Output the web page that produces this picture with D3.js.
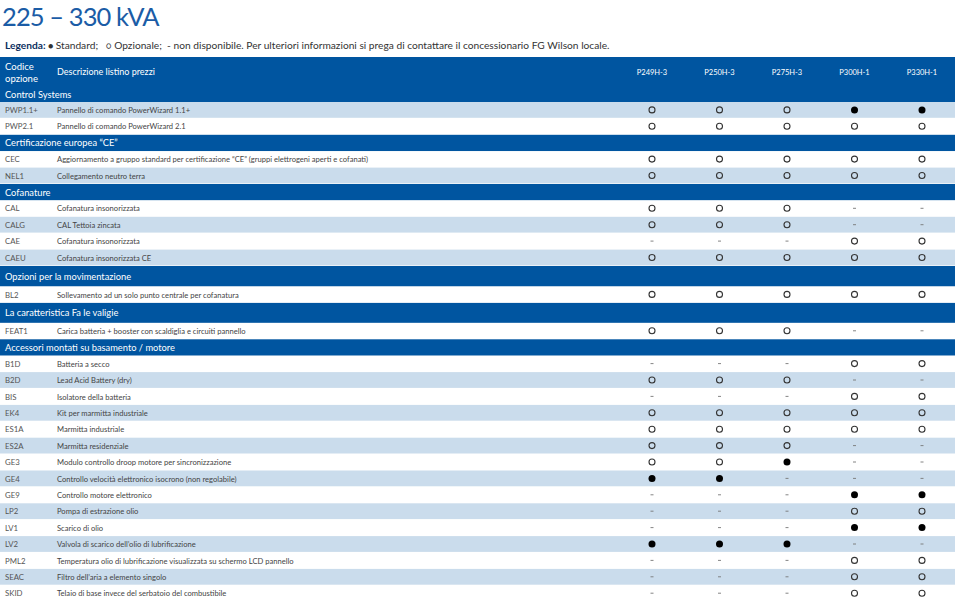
<!DOCTYPE html>
<html>
<head>
<meta charset="utf-8">
<script src="https://cdn.jsdelivr.net/npm/d3@7"></script>
<style>
  body { margin: 0; background: #fff; }
  text { font-family: Lato, "Open Sans", sans-serif; }
</style>
</head>
<body>
<script>
var models = ["P249H-3", "P250H-3", "P275H-3", "P300H-1", "P330H-1"];

var sectionTitles = [
  "Control Systems",
  "Certificazione europea \u201cCE\u201d",
  "Cofanature",
  "Opzioni per la movimentazione",
  "La caratteristica Fa le valigie",
  "Accessori montati su basamento / motore"
];

// S = standard, O = opzionale, - = non disponibile
var options = [
  [0, "PWP1.1+", "Pannello di comando PowerWizard 1.1+", "OOOSS"],
  [0, "PWP2.1", "Pannello di comando PowerWizard 2.1", "OOOOO"],
  [1, "CEC", "Aggiornamento a gruppo standard per certificazione \u201cCE\u201d (gruppi elettrogeni aperti e cofanati)", "OOOOO"],
  [1, "NEL1", "Collegamento neutro terra", "OOOOO"],
  [2, "CAL", "Cofanatura insonorizzata", "OOO--"],
  [2, "CALG", "CAL Tettoia zincata", "OOO--"],
  [2, "CAE", "Cofanatura insonorizzata", "---OO"],
  [2, "CAEU", "Cofanatura insonorizzata CE", "OOOOO"],
  [3, "BL2", "Sollevamento ad un solo punto centrale per cofanatura", "OOOOO"],
  [4, "FEAT1", "Carica batteria + booster con scaldiglia e circuiti pannello", "OOO--"],
  [5, "B1D", "Batteria a secco", "---OO"],
  [5, "B2D", "Lead Acid Battery (dry)", "OOO--"],
  [5, "BIS", "Isolatore della batteria", "---OO"],
  [5, "EK4", "Kit per marmitta industriale", "OOOOO"],
  [5, "ES1A", "Marmitta industriale", "OOOOO"],
  [5, "ES2A", "Marmitta residenziale", "OOO--"],
  [5, "GE3", "Modulo controllo droop motore per sincronizzazione", "OOS--"],
  [5, "GE4", "Controllo velocit\u00e0 elettronico isocrono (non regolabile)", "SS---"],
  [5, "GE9", "Controllo motore elettronico", "---SS"],
  [5, "LP2", "Pompa di estrazione olio", "---OO"],
  [5, "LV1", "Scarico di olio", "---SS"],
  [5, "LV2", "Valvola di scarico dell\u2019olio di lubrificazione", "SSS--"],
  [5, "PML2", "Temperatura olio di lubrificazione visualizzata su schermo LCD pannello", "---OO"],
  [5, "SEAC", "Filtro dell\u2019aria a elemento singolo", "---OO"],
  [5, "SKID", "Telaio di base invece del serbatoio del combustibile", "---OO"]
];

var width = 960, height = 599;
var dark = "#0055a0", light = "#cadcec";
var tableRight = 955;

var svg = d3.select("body").append("svg")
  .attr("width", width)
  .attr("height", height);

svg.append("text")
  .attr("x", 2).attr("y", 25.5)
  .style("font-size", "25.5px")
  .style("letter-spacing", "-0.9px")
  .style("fill", "#1b5ca6")
  .text("225 \u2013 330 kVA");

var legend = svg.append("text")
  .attr("x", 5).attr("y", 49)
  .style("font-size", "10.2px")
  .style("white-space", "pre")
  .style("fill", "#333");
legend.append("tspan").style("font-weight", "bold").style("fill", "#0c2f5e").text("Legenda: ");
legend.append("tspan").style("font-size", "9px").text("\u25cf ");
legend.append("tspan").text("Standard;   ");
legend.append("tspan").style("font-size", "9px").text("\u25cb ");
legend.append("tspan").text("Opzionale;  - non disponibile. Per ulteriori informazioni si prega di contattare il concessionario FG Wilson locale.");

var x = d3.scalePoint()
  .domain(models)
  .range([652, 922]);

// layout the rows one after another
var rowH = 16.4;
var tallHeaders = { 3: 20.5, 4: 20 };
var rows = [];
var y = 87;
var lastSection = -1, k = 0;
options.forEach(function(d) {
  if (d[0] !== lastSection) {
    var h = d[0] === 0 ? 15 : (tallHeaders[d[0]] || rowH);
    rows.push({ type: "section", title: sectionTitles[d[0]], y: y, h: h });
    y += h;
    lastSection = d[0];
    k = 0;
  }
  rows.push({ type: "row", code: d[1], desc: d[2], vals: d[3].split(""), y: y, h: rowH,
              shade: (k + (d[0] === 0 ? 1 : 0)) % 2 === 1 });
  y += rowH;
  k++;
});

// top header
svg.append("rect")
  .attr("x", 0).attr("y", 57)
  .attr("width", tableRight).attr("height", 30)
  .style("fill", dark);

var head = svg.append("g").style("fill", "#fff");
head.append("text").attr("x", 5).attr("y", 70).style("font-size", "9.5px").text("Codice");
head.append("text").attr("x", 5).attr("y", 81.5).style("font-size", "9.5px").text("opzione");
head.append("text").attr("x", 57).attr("y", 75).style("font-size", "9px").text("Descrizione listino prezzi");
head.selectAll(".model")
  .data(models)
  .enter().append("text")
    .attr("class", "model")
    .attr("x", function(d) { return x(d); })
    .attr("y", 75)
    .attr("text-anchor", "middle")
    .style("font-size", "7.5px")
    .text(function(d) { return d; });

var row = svg.append("g").selectAll("g")
  .data(rows)
  .enter().append("g")
    .attr("transform", function(d) { return "translate(0," + d.y + ")"; });

row.append("rect")
  .attr("width", tableRight)
  .attr("height", function(d) { return d.type === "row" ? d.h - 0.6 : d.h; })
  .style("fill", function(d) {
    if (d.type === "section") return dark;
    return d.shade ? light : "#fff";
  });

row.filter(function(d) { return d.type === "section"; })
  .append("text")
    .attr("x", 5)
    .attr("y", function(d) { return d.h / 2 + 3.4; })
    .style("font-size", "9.3px")
    .style("fill", "#fff")
    .text(function(d) { return d.title; });

var data = row.filter(function(d) { return d.type === "row"; });

data.append("text")
  .attr("x", 5)
  .attr("y", rowH / 2 + 2.8)
  .style("font-size", "7.8px")
  .style("fill", "#555")
  .text(function(d) { return d.code; });

data.append("text")
  .attr("x", 57)
  .attr("y", rowH / 2 + 2.8)
  .style("font-size", "7.6px")
  .style("fill", "#444")
  .text(function(d) { return d.desc; });

var cell = data.selectAll(".cell")
  .data(function(d) { return d.vals.map(function(v, i) { return { v: v, m: models[i] }; }); })
  .enter().append("g")
    .attr("class", "cell")
    .attr("transform", function(d) { return "translate(" + x(d.m) + "," + (rowH / 2 - 0.3) + ")"; });

cell.filter(function(d) { return d.v === "O"; })
  .append("circle")
    .attr("r", 3)
    .style("fill", "none")
    .style("stroke", "#333")
    .style("stroke-width", 1.1);

cell.filter(function(d) { return d.v === "S"; })
  .append("circle")
    .attr("r", 3.5)
    .style("fill", "#000");

cell.filter(function(d) { return d.v === "-"; })
  .append("line")
    .attr("x1", -1.5).attr("x2", 1.5)
    .style("stroke", "#777")
    .style("stroke-width", 0.9);
</script>
</body>
</html>
